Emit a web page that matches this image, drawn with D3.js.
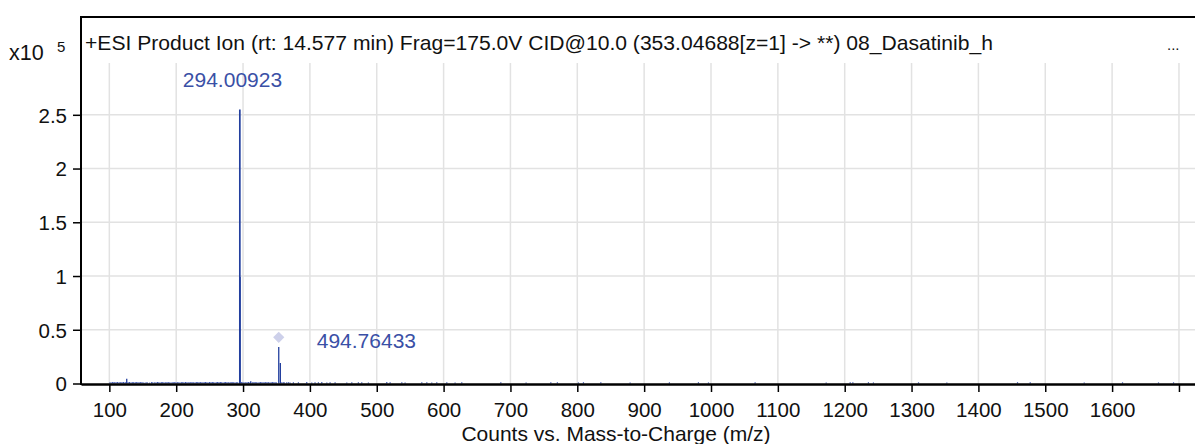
<!DOCTYPE html>
<html><head><meta charset="utf-8">
<script src="https://cdn.jsdelivr.net/npm/d3@7"></script>
<style>
html,body{margin:0;padding:0;background:#fff;}
svg{display:block;font-family:"Liberation Sans",Arial,sans-serif;}
</style></head>
<body><svg id="c" width="1195" height="444"></svg>
<script>
// ---- data ----
const titleText = "+ESI Product Ion (rt: 14.577 min) Frag=175.0V CID@10.0 (353.04688[z=1] -> **) 08_Dasatinib_h";
const xTicks = [100,200,300,400,500,600,700,800,900,1000,1100,1200,1300,1400,1500,1600,1700];
const xTickLabels = ["100","200","300","400","500","600","700","800","900","1000","1100","1200","1300","1400","1500","1600",""];
const yTicks = [0,0.5,1,1.5,2,2.5];
const yTickLabels = ["0","0.5","1","1.5","2","2.5"];
// major peaks (m/z as plotted, intensity x10^5)
const peakMz = [126.0, 295.2, 295.6, 311.5, 353.4, 355.8];
const peakInt = [0.045, 2.55, 0.99, 0.02, 0.34, 0.19];
// annotated peaks
const labelMz = [295.2, 353.4];
const labelText = ["294.00923", "494.76433"];
const precursorMz = [353.4];
const precursorInt = [0.43];
// baseline noise: [m/z, intensity x10^5]
const noise = [
  [101,0.012],[103,0.010],[105,0.014],[106.5,0.009],[108,0.012],[110,0.011],[112,0.015],[114,0.010],[116,0.013],[117.5,0.009],
  [119,0.012],[121,0.014],[123,0.010],[124.5,0.012],[128,0.011],[130,0.013],[132,0.010],[134,0.012],[135.5,0.014],[137,0.009],
  [139,0.011],[141,0.013],[143,0.012],[145,0.010],[147,0.014],[149,0.011],[151,0.009],[153,0.008],[155,0.012],[157,0.010],
  [160,0.008],[163,0.013],[165,0.011],[168,0.012],[170,0.010],[172,0.014],[174,0.011],[176,0.009],[178,0.012],[180,0.013],
  [182,0.010],[184,0.011],[186,0.012],[188,0.014],[190,0.010],[192,0.009],[194,0.012],[196,0.011],[198,0.013],[200,0.010],
  [202,0.012],[204,0.011],[206,0.009],[208,0.012],[210,0.013],[212,0.010],[214,0.014],[216,0.011],[218,0.012],[220,0.010],
  [222,0.013],[224,0.012],[226,0.011],[228,0.010],[230,0.014],[232,0.012],[234,0.011],[236,0.013],[238,0.010],[240,0.012],
  [242,0.011],[244,0.013],[246,0.012],[248,0.010],[250,0.014],[252,0.011],[254,0.013],[256,0.012],[258,0.010],[260,0.011],
  [262,0.013],[264,0.012],[266,0.014],[268,0.011],[270,0.010],[272,0.012],[274,0.013],[276,0.011],[278,0.012],[280,0.010],
  [282,0.013],[284,0.011],[286,0.012],[288,0.010],[290,0.012],[292,0.011],[298,0.013],[300,0.012],[302,0.010],[304,0.011],
  [306,0.012],[308,0.013],[310,0.010],[314,0.011],[316,0.012],[318,0.014],[320,0.011],[322,0.010],[324,0.012],[326,0.013],
  [328,0.011],[330,0.012],[332,0.010],[334,0.013],[336,0.011],[338,0.012],[340,0.010],[342,0.012],[344,0.013],[346,0.011],
  [348,0.012],[350,0.010],[358,0.011],[360.3,0.012],[362,0.010],[365.4,0.011],[368,0.012],[370.3,0.010],[375.3,0.012],[382.8,0.011],
  [395.3,0.013],[402.8,0.010],[407.7,0.012],[412.7,0.011],[417.8,0.013],[425.3,0.010],[430.2,0.012],[437.7,0.011],[455.2,0.010],[462.7,0.012],
  [472.5,0.011],[477.6,0.012],[487.5,0.010],[515,0.013],[520,0.011],[537.5,0.012],[542.4,0.010],[567.4,0.012],[574.9,0.011],[582.3,0.010],
  [589.8,0.012],[604.8,0.011],[617.2,0.010],[627.2,0.012],[685.6,0.011],[723.4,0.010],[760.4,0.012],[770.2,0.011],[801.7,0.010],[809.2,0.012],
  [835.2,0.011],[879,0.010],[937.8,0.011],[981.2,0.012],[996.2,0.010],[1066,0.011],[1172.3,0.010],[1208.2,0.012],[1212.2,0.011],[1235.5,0.012],
  [1243,0.010],[1310.4,0.011],[1352.8,0.010],[1458.5,0.012],[1477.5,0.011],[1558.3,0.010],[1615.6,0.011],[1669.4,0.010],[1691.9,0.011]
];

// ---- drawing ----
const svg = d3.select("#c");
const W = 1195, H = 444;
const L = 81, T = 17, R = 1195, B = 384;
const gridTop = 63;
const x = d3.scaleLinear().domain([57.6, 1724]).range([L, R]);
const y = d3.scaleLinear().domain([0, 3.41]).range([B - 0.5, T]);
const blue = "#233f9e";

svg.append("rect").attr("width", W).attr("height", H).attr("fill", "#fff");

// grid
svg.append("g").selectAll("line").data(xTicks).join("line")
  .attr("x1", d => x(d)).attr("x2", d => x(d))
  .attr("y1", gridTop).attr("y2", B)
  .attr("stroke", "#e2e2e2").attr("stroke-width", 1.5);
svg.append("g").selectAll("line").data(yTicks.filter(d => d > 0)).join("line")
  .attr("x1", L).attr("x2", R)
  .attr("y1", d => y(d)).attr("y2", d => y(d))
  .attr("stroke", "#e2e2e2").attr("stroke-width", 1.5);

// noise
svg.append("g").selectAll("line").data(noise).join("line")
  .attr("x1", d => x(d[0])).attr("x2", d => x(d[0]))
  .attr("y1", y(0)).attr("y2", d => y(d[1]))
  .attr("stroke", "#3c56b0").attr("stroke-width", 1.2);

// precursor diamond
svg.append("g").selectAll("path").data(precursorMz.map((m, i) => [m, precursorInt[i]])).join("path")
  .attr("d", d3.symbol().type(d3.symbolDiamond2).size(80))
  .attr("transform", d => `translate(${x(d[0])},${y(d[1])})`)
  .attr("fill", "#cdd0ea");

// peaks
svg.append("g").selectAll("line").data(peakMz.map((m, i) => [m, peakInt[i]])).join("line")
  .attr("x1", d => x(d[0])).attr("x2", d => x(d[0]))
  .attr("y1", y(0)).attr("y2", d => y(d[1]))
  .attr("stroke", blue).attr("stroke-width", (d, i) => i === 1 ? 1.7 : 1.3);

// peak labels
const labelOffsets = [[-57, 87], [38, 348]];
svg.append("g").selectAll("text").data(labelMz).join("text")
  .attr("x", (d, i) => x(d) + labelOffsets[i][0])
  .attr("y", (d, i) => labelOffsets[i][1])
  .attr("fill", "#3a50a6").attr("font-size", 21)
  .text((d, i) => labelText[i]);

// frame
svg.append("line").attr("x1", L).attr("x2", R).attr("y1", T).attr("y2", T)
  .attr("stroke", "#000").attr("stroke-width", 2);
svg.append("line").attr("x1", L).attr("x2", L).attr("y1", T - 1).attr("y2", B + 1)
  .attr("stroke", "#000").attr("stroke-width", 2);

// x axis
const xAxis = d3.axisBottom(x).tickValues(xTicks)
  .tickFormat((d, i) => xTickLabels[i]).tickSize(8).tickSizeOuter(0);
const gx = svg.append("g").attr("transform", `translate(0,${B})`).call(xAxis);
gx.select(".domain").attr("stroke", "#000").attr("stroke-width", 2.5);
gx.selectAll(".tick line").attr("stroke", "#000").attr("stroke-width", 1.5);
gx.selectAll(".tick text").attr("font-size", 20.5).attr("fill", "#111")
  .attr("font-family", "Liberation Sans, Arial, sans-serif").attr("dy", "0").attr("y", 33);

// y axis
const yAxis = d3.axisLeft(y).tickValues(yTicks)
  .tickFormat((d, i) => yTickLabels[i]).tickSize(8).tickSizeOuter(0);
const gy = svg.append("g").attr("transform", `translate(${L},0)`).call(yAxis);
gy.select(".domain").remove();
gy.selectAll(".tick line").attr("stroke", "#000").attr("stroke-width", 1.5);
gy.selectAll(".tick text").attr("font-size", 20.5).attr("fill", "#111")
  .attr("font-family", "Liberation Sans, Arial, sans-serif").attr("x", -14).attr("dy", "0.36em");

// title texts
svg.append("text").attr("x", 85).attr("y", 50).attr("font-size", 21.1).attr("fill", "#111").text(titleText);
svg.append("text").attr("x", 1167).attr("y", 50).attr("font-size", 15).attr("fill", "#111").text("...");
svg.append("text").attr("x", 9).attr("y", 60).attr("font-size", 21.5).attr("fill", "#111").text("x10");
svg.append("text").attr("x", 57).attr("y", 52).attr("font-size", 15).attr("fill", "#111").text("5");
svg.append("text").attr("x", 616).attr("y", 441).attr("text-anchor", "middle")
  .attr("font-size", 21).attr("fill", "#111").text("Counts vs. Mass-to-Charge (m/z)");
</script></body></html>
